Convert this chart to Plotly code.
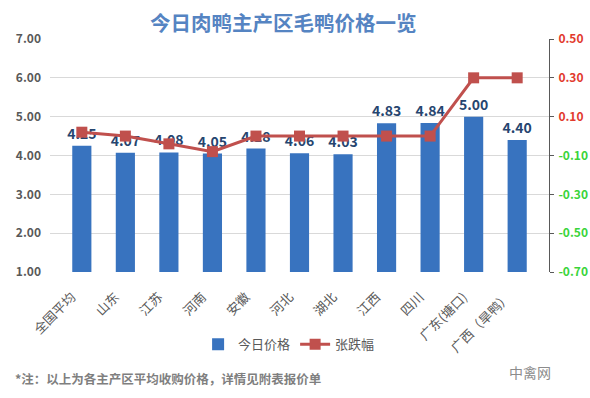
import plotly.graph_objects as go

categories = ["全国平均", "山东", "江苏", "河南", "安徽", "河北", "湖北", "江西", "四川", "广东(塘口)", "广西（旱鸭）"]
price = [4.25, 4.07, 4.08, 4.05, 4.18, 4.06, 4.03, 4.83, 4.84, 5.00, 4.40]
change = [0.02, 0.00, -0.04, -0.08, 0.00, 0.00, 0.00, 0.00, 0.00, 0.30, 0.30]

left_ticks = [1, 2, 3, 4, 5, 6, 7]
right_ticks = [-0.7, -0.5, -0.3, -0.1, 0.1, 0.3, 0.5]

FONT = "Noto Sans CJK SC"
right_text = [
    f"<span style='color:{'#e23a2e' if v > 0 else '#3ad43a'}'><b>{v:.2f}</b></span>"
    for v in right_ticks
]

fig = go.Figure()
fig.add_trace(go.Bar(
    x=categories, y=[p - 1 for p in price], base=1,
    name="今日价格",
    marker=dict(color="#3873bf", line=dict(width=0)),
    text=[f"{p:.2f}" for p in price],
    textposition="outside",
    constraintext="none",
    textfont=dict(family=FONT, size=14, color="#26456f", weight="bold"),
    cliponaxis=False,
    hoverinfo="skip",
))
fig.add_trace(go.Scatter(
    x=categories, y=change, name="张跌幅", yaxis="y2",
    mode="lines+markers",
    line=dict(color="#c0504d", width=3),
    marker=dict(symbol="square", size=11, color="#c0504d"),
    cliponaxis=False,
))

fig.update_layout(
    width=590, height=398,
    margin=dict(l=50, r=41, t=39, b=126, autoexpand=False),
    paper_bgcolor="white", plot_bgcolor="white",
    font=dict(family=FONT, color="#595959"),
    title=dict(
        text="<b>今日肉鸭主产区毛鸭价格一览</b>",
        x=0.48, xanchor="center", y=0.94, yanchor="middle",
        font=dict(family=FONT, size=20.5, color="#5584c2"),
    ),
    bargap=0.56,
    showlegend=True,
    legend=dict(
        orientation="h", xref="container", yref="container",
        x=0.49, xanchor="center", y=0.135, yanchor="middle",
        font=dict(family=FONT, size=13, color="#595959"),
        itemwidth=30, traceorder="normal",
    ),
    xaxis=dict(
        tickangle=-45, showgrid=False, showline=False, ticks="", automargin=False,
        ticklabelstandoff=14, ticklabelshift=-10,
        tickfont=dict(family=FONT, size=13, color="#595959"),
    ),
    yaxis=dict(
        range=[1, 7], tickvals=left_ticks, ticktext=[f"<b>{v:.2f}</b>" for v in left_ticks],
        showgrid=True, gridcolor="#d9d9d9", gridwidth=1, zeroline=False,
        showline=False, ticks="", ticklabelstandoff=8, automargin=False,
        tickfont=dict(family=FONT, size=12, color="#595959"),
    ),
    yaxis2=dict(
        overlaying="y", side="right", range=[-0.7, 0.5],
        tickvals=right_ticks, ticktext=right_text,
        showgrid=False, zeroline=False, automargin=False,
        showline=True, linecolor="#595959", linewidth=1,
        ticks="outside", ticklen=4, tickcolor="#595959", ticklabelstandoff=2,
        tickfont=dict(family=FONT, size=12),
    ),
    annotations=[
        dict(
            text="<b>*注：以上为各主产区平均收购价格，详情见附表报价单</b>",
            xref="paper", yref="paper", x=-0.074, y=-0.455,
            xanchor="left", yanchor="middle", showarrow=False,
            font=dict(family=FONT, size=12.5, color="#7f7f7f"),
        ),
        dict(
            text="中禽网",
            xref="paper", yref="paper", x=0.962, y=-0.43,
            xanchor="center", yanchor="middle", showarrow=False,
            font=dict(family=FONT, size=14, color="#8c8c8c"),
        ),
    ],
)

fig.write_html(
    "out.html",
    config={"displayModeBar": False},
    post_script="document.body.style.margin='0';",
)
